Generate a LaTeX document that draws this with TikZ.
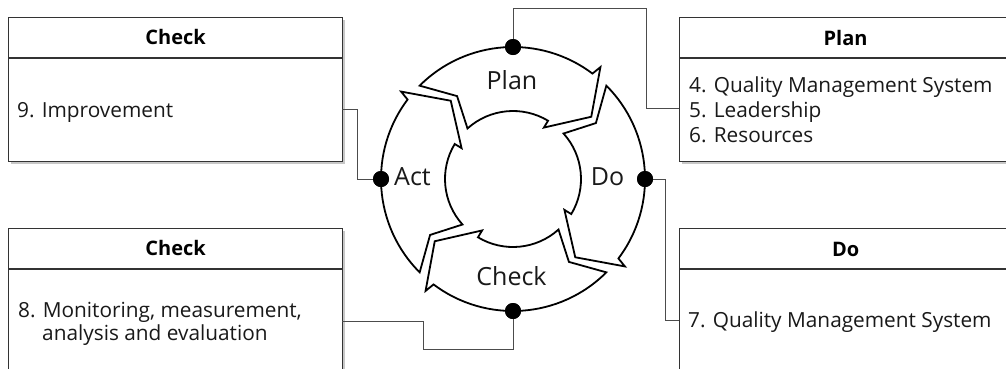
\documentclass[tikz,border=0pt]{standalone}
\usepackage{fontspec}
\setmainfont{Open Sans}
\usetikzlibrary{shadows}
\begin{document}
\begin{tikzpicture}[x=1pt,y=-1pt,
  box/.style={draw=black!80, line width=1.2pt, fill=white, inner sep=0,
    drop shadow={shadow xshift=2pt, shadow yshift=-2.5pt, fill=black, opacity=0.22}},
  sep/.style={draw=black!80, line width=1.2pt},
  hdr/.style={font=\fontsize{20}{23}\selectfont\bfseries, anchor=base, inner sep=0},
  body/.style={font=\fontsize{20.8}{24}\selectfont, anchor=base west, inner sep=0, text=black!90},
  lbl/.style={font=\fontsize{25}{28}\selectfont, anchor=base, inner sep=0, text=black!90},
  conn/.style={draw=black!70, line width=0.9pt},
  ring/.style={draw=black, line width=1.8pt, fill=white, line join=miter},
  dot/.style={circle, fill=black, minimum size=16pt, inner sep=0}]
\clip (0,0) rectangle (1006,368);
\fill[white] (0,0) rectangle (1006,368);

% boxes
\node[box, minimum width=334pt, minimum height=144pt, anchor=north west] (chkA) at (8,17) {};
\node[box, minimum width=332pt, minimum height=144pt, anchor=north west] (plan) at (679,17) {};
\node[box, minimum width=334pt, minimum height=150pt, anchor=north west] (chkB) at (8,228) {};
\node[box, minimum width=332pt, minimum height=150pt, anchor=north west] (do) at (679,228) {};
\foreach \b in {chkA,plan,chkB,do}
  \draw[sep] ([yshift=-41pt]\b.north west) -- ([yshift=-41pt]\b.north east);

\node[hdr] (chkAh) at ([yshift=-27pt]chkA.north) {Check};
\node[hdr] (planh) at ([yshift=-28pt]plan.north) {Plan};
\node[hdr] (chkBh) at ([yshift=-27pt]chkB.north) {Check};
\node[hdr] (doh) at ([yshift=-28pt]do.north) {Do};

\node[body] (t9) at (17,117) {9. Improvement};
\node[body] (t4) at (689,92) {4. Quality Management System};
\node[body] (t5) at (689,117) {5. Leadership};
\node[body] (t6) at (689,142) {6. Resources};
\node[body] (t8a) at (18,317) {8. Monitoring, measurement,};
\node[body] (t8b) at (42,340) {analysis and evaluation};
\node[body] (t7) at (688,327) {7. Quality Management System};

% ring arrows and dots
\begin{scope}[shift={(513,179)}]
  \foreach \c in {90,0,-90,180} {
    \draw[ring] (\c+45:132pt) arc[start angle=\c+45, end angle=\c-37, radius=132pt]
      -- (\c-38:142pt) -- (\c-51.5:100pt) -- (\c-31:60pt) -- (\c-31:68pt)
      arc[start angle=\c-31, end angle=\c+42, radius=68pt]
      -- (\c+34:100pt) -- cycle;
  }
  \node[dot] (dP) at (90:132pt) {};
  \node[dot] (dD) at (0:132pt) {};
  \node[dot] (dC) at (-90:132pt) {};
  \node[dot] (dA) at (180:132pt) {};
\end{scope}

% connectors
\coordinate (jP) at (646,8);
\coordinate (eP) at (679,108);
\coordinate (jD) at (665,320);
\coordinate (eD) at (679,320);
\coordinate (jC) at (423,349);
\coordinate (eC) at (342,321);
\coordinate (jA) at (357,109);
\coordinate (eA) at (342,109);
\draw[conn] (dP.center) |- (jP) |- (eP);
\draw[conn] (dD.center) -| (jD) -- (eD);
\draw[conn] (dC.center) |- (jC) |- (eC);
\draw[conn] (dA.center) -| (jA) -- (eA);
\node[dot] at (dP) {};
\node[dot] at (dD) {};
\node[dot] at (dC) {};
\node[dot] at (dA) {};

\node[lbl] (lP) at (512,89) {Plan};
\node[lbl] (lD) at (607.5,185) {Do};
\node[lbl] (lA) at (412.5,185) {Act};
\node[lbl] (lC) at (511.5,285) {Check};
\end{tikzpicture}
\end{document}
